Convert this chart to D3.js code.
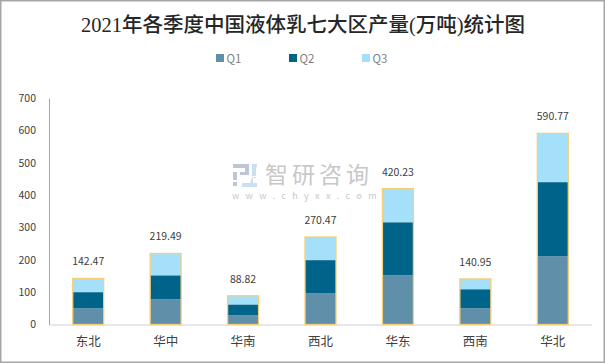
<!DOCTYPE html>
<html>
<head>
<meta charset="utf-8">
<script src="https://cdn.jsdelivr.net/npm/d3@7"></script>
<style>
  body { margin: 0; background: #fff; }
  svg { display: block; }
  text { font-family: "Noto Sans CJK SC", "Noto Sans", sans-serif; }
</style>
</head>
<body>
<div id="chart"></div>
<script>
const regions = ['东北', '华中', '华南', '西北', '华东', '西南', '华北'];
const q1 = [50, 78, 28, 96, 152, 50, 211];
const q2 = [50, 74, 34, 103, 164, 59, 229];
const q3 = [42.47, 67.49, 26.82, 71.47, 104.23, 31.95, 150.77];
const totals = [142.47, 219.49, 88.82, 270.47, 420.23, 140.95, 590.77];
const seriesNames = ['Q1', 'Q2', 'Q3'];
const seriesColors = ['#5f8fa9', '#006389', '#a5e0fa'];
const yTicks = [0, 100, 200, 300, 400, 500, 600, 700];

const WIDTH = 605;
const HEIGHT = 363;
const MARGIN = { left: 49, right: 14, top: 98, bottom: 38.5 };

const svg = d3.select('#chart').append('svg')
  .attr('width', WIDTH)
  .attr('height', HEIGHT);

// outer frame
svg.append('rect')
  .attr('x', 0.75).attr('y', 0.75)
  .attr('width', WIDTH - 1.5).attr('height', HEIGHT - 1.5)
  .attr('fill', '#fff')
  .attr('stroke', '#a6a6a6')
  .attr('stroke-width', 1.5);

svg.append('text')
  .attr('x', 303).attr('y', 32)
  .attr('text-anchor', 'middle')
  .attr('font-size', 20.5)
  .attr('font-weight', 500)
  .attr('fill', '#262626')
  .style('font-family', '"Liberation Serif", "Noto Sans CJK SC", serif')
  .text('2021年各季度中国液体乳七大区产量(万吨)统计图');

const x = d3.scaleBand()
  .domain(regions)
  .range([MARGIN.left + 0.5, WIDTH - MARGIN.right + 0.5])
  .paddingInner(0.6)
  .paddingOuter(0.3);

const y = d3.scaleLinear()
  .domain([0, 700])
  .range([HEIGHT - MARGIN.bottom, MARGIN.top]);

// watermark
const mark = svg.append('g').attr('class', 'watermark');
mark.append('text')
  .attr('x', 265).attr('y', 183)
  .attr('font-size', 23)
  .attr('letter-spacing', 4)
  .attr('fill', '#c8c8c8')
  .text('智研咨询');
mark.append('text')
  .attr('x', 232).attr('y', 198.5)
  .attr('font-size', 9)
  .attr('letter-spacing', 6.4)
  .attr('fill', '#c8c8c8')
  .text('www.chyxx.com');
mark.append('path')
  .attr('d', 'M233 164h16v11h-9v-3h5v-4h-12zM233 172h4v8h-4zM233 182h4v4h-4z')
  .attr('fill', '#bcc6d6');
mark.append('path')
  .attr('d', 'M252 164h4v12h-4zM253 178h3v-1h-3zM250 183h7v-17h-0zM258 164h-1h0v23h-15v-4h11v-19z')
  .attr('fill', '#c9dff2');

const xAxis = svg.append('g')
  .attr('transform', `translate(0,${y(0)})`)
  .call(d3.axisBottom(x).tickSize(0).tickPadding(13));
xAxis.select('.domain').attr('stroke', '#d0d0d0');
xAxis.selectAll('text')
  .attr('font-size', 12.5)
  .attr('fill', '#404040');

const yAxis = svg.append('g')
  .attr('transform', `translate(${MARGIN.left},0)`)
  .call(d3.axisLeft(y).tickValues(yTicks).tickSize(0).tickPadding(13));
yAxis.select('.domain').attr('stroke', '#a6a6a6');
yAxis.selectAll('text')
  .attr('font-size', 10.5)
  .attr('fill', '#404040');

// stacked bars
const rows = regions.map((r, i) => ({ region: r, Q1: q1[i], Q2: q2[i], Q3: q3[i], total: totals[i] }));
const stacked = d3.stack().keys(seriesNames)(rows);

svg.append('g').selectAll('g')
  .data(stacked)
  .join('g')
  .attr('fill', (d, i) => seriesColors[i])
  .selectAll('rect')
  .data(d => d)
  .join('rect')
  .attr('x', d => x(d.data.region))
  .attr('y', d => y(d[1]))
  .attr('width', x.bandwidth())
  .attr('height', d => y(d[0]) - y(d[1]));

// total outline
svg.append('g').selectAll('rect')
  .data(rows)
  .join('rect')
  .attr('x', d => x(d.region))
  .attr('y', d => y(d.total))
  .attr('width', x.bandwidth())
  .attr('height', d => y(0) - y(d.total))
  .attr('fill', 'none')
  .attr('stroke', '#f5cf77')
  .attr('stroke-width', 1.3);

svg.append('g').selectAll('text')
  .data(rows)
  .join('text')
  .attr('x', d => x(d.region) + x.bandwidth() / 2)
  .attr('y', d => y(d.total) - 13)
  .attr('text-anchor', 'middle')
  .attr('font-size', 10.5)
  .attr('fill', '#404040')
  .text(d => d.total.toFixed(2));

// legend
const legend = svg.append('g').selectAll('g')
  .data(seriesNames)
  .join('g')
  .attr('transform', (d, i) => `translate(${216 + i * 73},54)`);
legend.append('rect')
  .attr('width', 8).attr('height', 8)
  .attr('fill', (d, i) => seriesColors[i]);
legend.append('text')
  .attr('x', 10.5).attr('y', 8.5)
  .attr('font-size', 11.5)
  .attr('fill', '#7f7f7f')
  .text(d => d);
</script>
</body>
</html>
